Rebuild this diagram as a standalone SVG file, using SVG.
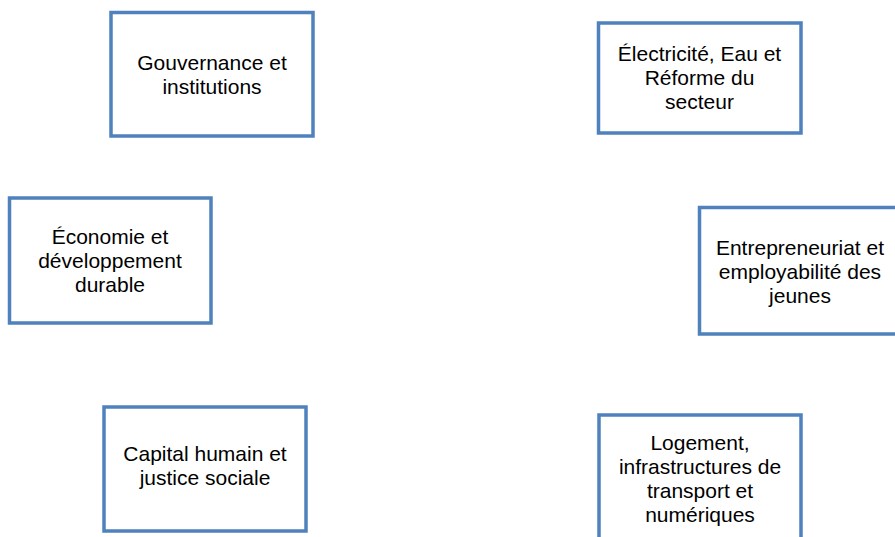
<svg xmlns="http://www.w3.org/2000/svg" width="895" height="537" viewBox="0 0 895 537">
<style>
.box{fill:#ffffff;stroke:#4F81BD;stroke-width:3.5}
.t{font-family:"Liberation Sans",Arial,sans-serif;font-size:21px;fill:#000000;text-anchor:middle}
</style>
<rect x="0" y="0" width="895" height="537" fill="#ffffff"/>
<g id="connectors"/>
<g id="gouvernance">
<rect class="box" x="111" y="12.5" width="202" height="123.5"/>
<text class="t" x="212" y="69.5">Gouvernance et</text>
<text class="t" x="212" y="93.5">institutions</text>
</g>
<g id="electricite">
<rect class="box" x="598.5" y="23" width="202.5" height="110"/>
<text class="t" x="699.5" y="61">Électricité, Eau et</text>
<text class="t" x="699.5" y="85">Réforme du</text>
<text class="t" x="699.5" y="109">secteur</text>
</g>
<g id="economie">
<rect class="box" x="9.5" y="198" width="201.5" height="125"/>
<text class="t" x="110" y="244">Économie et</text>
<text class="t" x="110" y="268">développement</text>
<text class="t" x="110" y="292">durable</text>
</g>
<g id="entrepreneuriat">
<rect class="box" x="699.5" y="207.5" width="201" height="126.5"/>
<text class="t" x="800" y="255">Entrepreneuriat et</text>
<text class="t" x="800" y="279">employabilité des</text>
<text class="t" x="800" y="303">jeunes</text>
</g>
<g id="capital">
<rect class="box" x="104" y="407" width="202" height="124"/>
<text class="t" x="205" y="461">Capital humain et</text>
<text class="t" x="205" y="485">justice sociale</text>
</g>
<g id="logement">
<rect class="box" x="599" y="415" width="202" height="126"/>
<text class="t" x="700" y="450">Logement,</text>
<text class="t" x="700" y="474">infrastructures de</text>
<text class="t" x="700" y="498">transport et</text>
<text class="t" x="700" y="522">numériques</text>
</g>
</svg>
